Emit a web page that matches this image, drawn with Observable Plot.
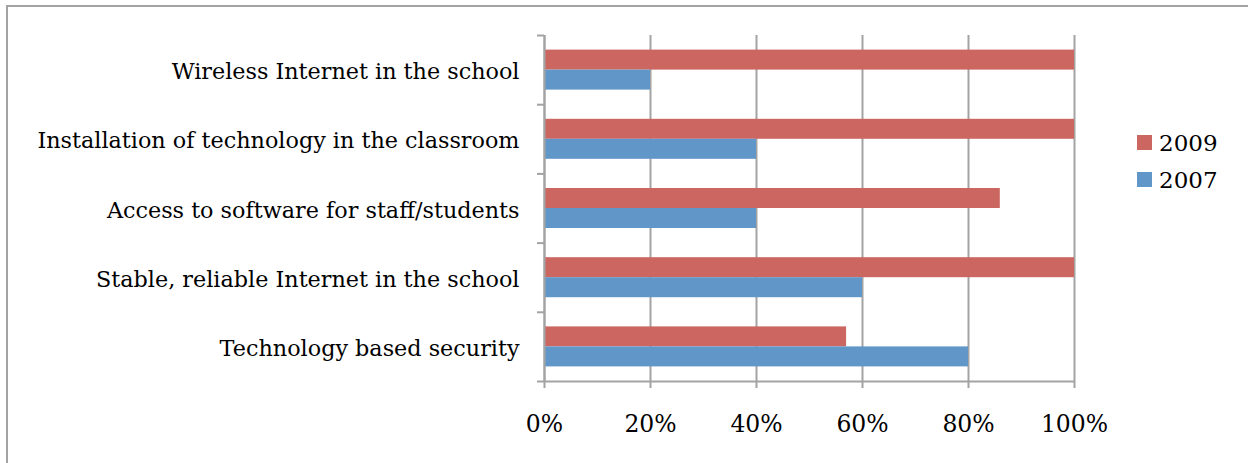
<!DOCTYPE html>
<html><head><meta charset="utf-8">
<script src="https://cdn.jsdelivr.net/npm/d3@7"></script>
<script src="https://cdn.jsdelivr.net/npm/@observablehq/plot@0.6"></script>
<style>
body{margin:0;background:#fff;}
#wrap{position:relative;width:1248px;height:463px;overflow:hidden;background:#fff;}
#frame{position:absolute;left:6px;top:5px;width:1280px;height:500px;border-left:2px solid #a3a3a3;border-top:2px solid #a3a3a3;}
#chart{position:absolute;left:0;top:0;}
#legend{position:absolute;left:1137px;top:124px;font-family:"DejaVu Serif";font-size:23px;color:#000;}
#legend .item{display:flex;align-items:center;height:37px;}
#legend .sw{width:15px;height:15px;margin-right:7px;}
</style></head><body>
<div id="wrap"><div id="frame"></div><div id="chart"></div><div id="legend"></div></div>
<script>
const categories = [
  "Wireless Internet in the school",
  "Installation of technology in the classroom",
  "Access to software for staff/students",
  "Stable, reliable Internet in the school",
  "Technology based security"
];
const values2009 = [1.00, 1.00, 0.86, 1.00, 0.57];
const values2007 = [0.20, 0.40, 0.40, 0.60, 0.80];
const years = ["2009", "2007"];
const colors = ["#cc6661", "#6196c9"];
const xTicks = [0, 0.2, 0.4, 0.6, 0.8, 1];
const boundaries = [0, 1, 2, 3, 4, 5];

const rows2009 = categories.map((c, i) => ({category: c, i, year: "2009", value: values2009[i]}));
const rows2007 = categories.map((c, i) => ({category: c, i, year: "2007", value: values2007[i]}));
const labelRows = categories.map((c, i) => ({category: c, i}));

const W = 1248, H = 463, mT = 35, mB = 82, mL = 544, mR = 174;
const band = (H - mT - mB) / categories.length;
const barH = 20;
const pad = (band - 2 * barH) / 2;
const grid = "#a3a3a3";

const chart = Plot.plot({
  width: W, height: H,
  marginTop: mT, marginBottom: mB, marginLeft: mL, marginRight: mR,
  style: {fontFamily: "DejaVu Serif", fontSize: "22px", color: "#000", background: "transparent"},
  x: {type: "linear", domain: [0, 1]},
  y: {type: "linear", domain: [0, 5], reverse: true},
  marks: [
    Plot.ruleX(xTicks, {x: d => d, y1: 0, y2: 5, stroke: grid, strokeWidth: 2}),
    Plot.rect(rows2009, {x1: 0, x2: "value", y1: "i", y2: d => d.i + 1, fill: colors[0], insetTop: pad, insetBottom: band - pad - barH}),
    Plot.rect(rows2007, {x1: 0, x2: "value", y1: "i", y2: d => d.i + 1, fill: colors[1], insetTop: pad + barH, insetBottom: pad}),
    Plot.ruleY([5], {y: d => d, x1: 0, x2: 1, stroke: grid, strokeWidth: 2}),
    Plot.ruleX([0], {x: d => d, y1: 0, y2: 5, stroke: grid, strokeWidth: 2}),
    Plot.axisY({ticks: boundaries, tickSize: 7, tickFormat: () => "", stroke: grid, strokeWidth: 2, label: null}),
    Plot.axisX({ticks: xTicks, tickSize: 7, tickPadding: 27, tickFormat: d3.format(".0%"), stroke: grid, strokeWidth: 2, fontSize: 23.5, label: null}),
    Plot.text(labelRows, {x: 0, y: d => d.i + 0.5, text: "category", textAnchor: "end", dx: -25, dy: 2, fontSize: 22.3, fill: "#000"})
  ]
});
document.getElementById("chart").appendChild(chart);

const legend = document.getElementById("legend");
years.forEach((y, k) => {
  const it = document.createElement("div");
  it.className = "item";
  const sw = document.createElement("span");
  sw.className = "sw";
  sw.style.background = colors[k];
  const t = document.createElement("span");
  t.textContent = y;
  it.appendChild(sw); it.appendChild(t);
  legend.appendChild(it);
});
</script>
</body></html>
